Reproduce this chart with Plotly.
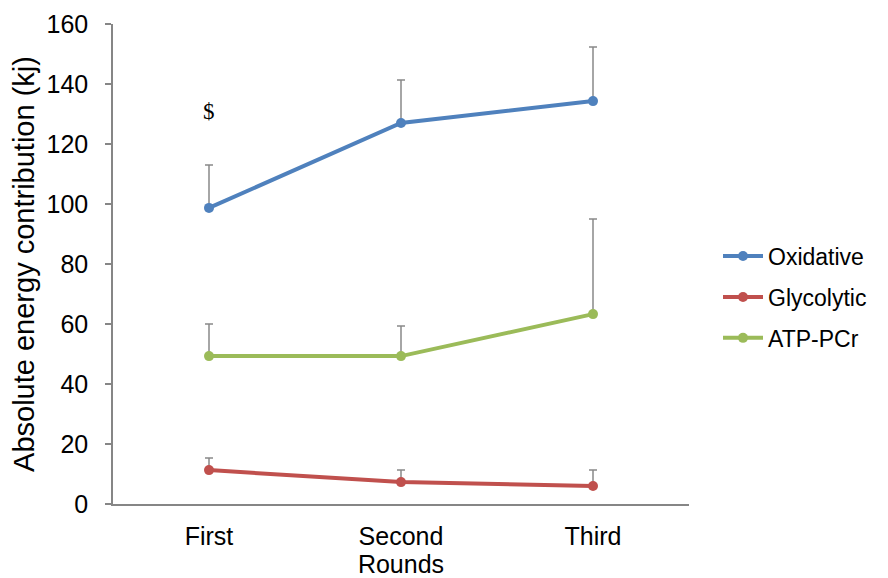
import plotly.graph_objects as go

rounds = ["First", "Second", "Third"]
series_names = ["Oxidative", "Glycolytic", "ATP-PCr"]
oxidative = [98.7, 127.0, 134.3]
glycolytic = [11.3, 7.3, 6.0]
atp_pcr = [49.3, 49.3, 63.3]
oxidative_err = [14.3, 14.3, 18.0]
glycolytic_err = [4.0, 4.0, 5.3]
atp_pcr_err = [10.7, 10.0, 31.7]
colors = ["#4F81BD", "#C0504D", "#9BBB59"]
y_ticks = [0, 20, 40, 60, 80, 100, 120, 140, 160]

values = [oxidative, glycolytic, atp_pcr]
errors = [oxidative_err, glycolytic_err, atp_pcr_err]

fig = go.Figure()
for name, vals, errs, col in zip(series_names, values, errors, colors):
    fig.add_trace(go.Scatter(
        x=rounds, y=vals, name=name, mode="lines+markers",
        legendgroup=name,
        line=dict(color=col, width=4),
        marker=dict(color=col, size=10),
        error_y=dict(type="data", symmetric=False, array=errs,
                     arrayminus=[0] * len(errs),
                     color="#898989", thickness=1.5, width=4),
    ))

fig.add_annotation(x="First", y=131, text="$", showarrow=False,
                   font=dict(family="Liberation Serif, Times New Roman, serif",
                             size=23, color="#000000"))

font_main = "Liberation Sans, Arial, sans-serif"
fig.update_layout(
    width=888, height=578,
    margin=dict(l=105, r=207, t=16, b=82),
    paper_bgcolor="white", plot_bgcolor="white",
    font=dict(family=font_main, size=25, color="#000000"),
    showlegend=True,
    legend=dict(x=(710 - 105) / 576, xanchor="left", y=0.431, yanchor="middle",
                font=dict(size=23), tracegroupgap=8, traceorder="grouped",
                itemwidth=40, bgcolor="rgba(0,0,0,0)"),
    xaxis=dict(
        type="category", range=[-0.5, 2.5],
        showline=True, linecolor="#868686", linewidth=1.5,
        ticks="", showgrid=False, zeroline=False,
        ticklabelstandoff=9,
        title=dict(text="Rounds", standoff=4, font=dict(size=25)),
        automargin=False,
    ),
    yaxis=dict(
        range=[0, 160], tickvals=y_ticks,
        showline=True, linecolor="#868686", linewidth=1.5,
        ticks="outside", ticklen=6, tickcolor="#868686", tickwidth=1.5,
        showgrid=False, zeroline=False,
        ticklabelstandoff=12,
        title=dict(text="Absolute energy contribution (kj)", standoff=9,
                   font=dict(size=29)),
        automargin=False,
    ),
)

fig.write_html("out.html")
